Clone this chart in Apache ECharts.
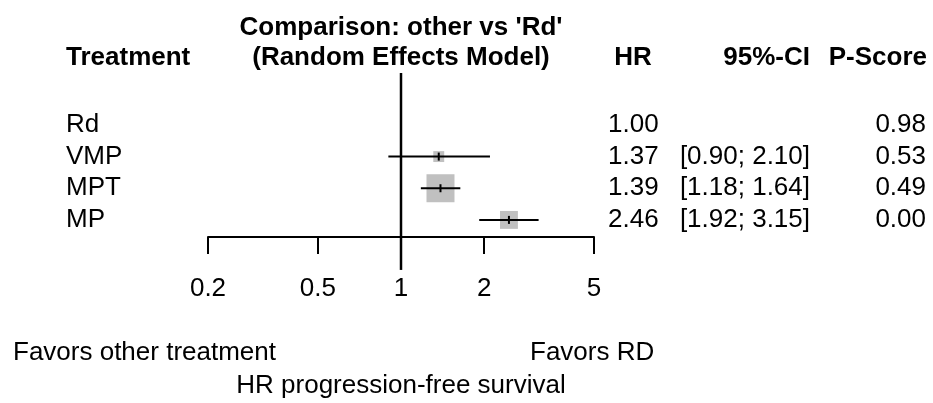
<!DOCTYPE html>
<html>
<head>
<meta charset="utf-8">
<script src="https://cdn.jsdelivr.net/npm/echarts@6/dist/echarts.min.js"></script>
<style>
  html, body { margin: 0; padding: 0; background: #fff; }
  #forest { width: 933px; height: 403px; }
</style>
</head>
<body>
<div id="forest"></div>
<script>
// data
var treatments = ['Rd', 'VMP', 'MPT', 'MP'];
var hr = [1.00, 1.37, 1.39, 2.46];
var ciLower = [null, 0.90, 1.18, 1.92];
var ciUpper = [null, 2.10, 1.64, 3.15];
var pScore = [0.98, 0.53, 0.49, 0.00];
var weights = [null, 0.39, 1.00, 0.64];   // relative box weight
var xTicks = [0.2, 0.5, 1, 2, 5];
var refValue = 1;

var FONT = "'Liberation Sans', Arial, sans-serif";
var log10 = function (v) { return Math.log(v) / Math.LN10; };

var chart = echarts.init(document.getElementById('forest'));

// rows with a CI -> forest marks
var forestData = [];
for (var i = 0; i < treatments.length; i++) {
    if (ciLower[i] == null) continue;
    forestData.push([log10(hr[i]), i, log10(ciLower[i]), log10(ciUpper[i]), weights[i]]);
}
var tableData = [];
for (var i = 0; i < treatments.length; i++) {
    tableData.push([0, i]);
}

var yMin = -1.64, yMax = 3.54;  // row units, row 0 on top

function txt(text, x, y, align, bold) {
    return {
        type: 'text', x: x, y: y, silent: true,
        style: {
            text: text, fill: '#000', align: align, verticalAlign: 'middle',
            font: (bold ? 'bold ' : '') + '26px ' + FONT
        }
    };
}

var option = {
    animation: false,
    grid: { left: 208, right: 339, top: 73, bottom: 166 },
    xAxis: {
        type: 'value',
        min: log10(xTicks[0]),
        max: log10(xTicks[xTicks.length - 1]),
        splitLine: { show: false },
        axisLine: { onZero: false, lineStyle: { color: '#000', width: 2 } },
        axisTick: {
            customValues: xTicks.map(log10),
            length: 17,
            lineStyle: { color: '#000', width: 2 }
        },
        axisLabel: {
            customValues: xTicks.map(log10),
            margin: 39,
            color: '#000',
            fontSize: 26,
            fontFamily: FONT,
            formatter: function (v) {
                return String(Math.round(Math.pow(10, v) * 10) / 10);
            }
        }
    },
    yAxis: {
        type: 'value', inverse: true, min: yMin, max: yMax, show: false
    },
    graphic: [
        txt("Comparison: other vs 'Rd'", 401, 28, 'center', true),
        txt('Treatment', 66, 58, 'left', true),
        txt('(Random Effects Model)', 401, 58, 'center', true),
        txt('HR', 633, 58, 'center', true),
        txt('95%-CI', 810, 58, 'right', true),
        txt('P-Score', 927, 58, 'right', true),
        txt('Favors other treatment', 13, 353, 'left', false),
        txt('Favors RD', 530, 353, 'left', false),
        txt('HR progression-free survival', 401, 386, 'center', false)
    ],
    series: [
        {
            // reference line at HR = 1
            type: 'line',
            data: [[log10(refValue), yMin], [log10(refValue), 4.58]],
            symbol: 'none',
            clip: false,
            silent: true,
            lineStyle: { color: '#000', width: 2.5 }
        },
        {
            type: 'custom',
            data: forestData,
            clip: false,
            renderItem: function (params, api) {
                var c = api.coord([api.value(0), api.value(1)]);
                var lo = api.coord([api.value(2), api.value(1)]);
                var hi = api.coord([api.value(3), api.value(1)]);
                var s = api.value(4) * 28;
                return {
                    type: 'group',
                    children: [
                        { type: 'rect', shape: { x: c[0] - s / 2, y: c[1] - s / 2, width: s, height: s },
                          style: { fill: '#c0c0c0' } },
                        { type: 'line', shape: { x1: lo[0], y1: lo[1], x2: hi[0], y2: hi[1] },
                          style: { stroke: '#000', lineWidth: 2 } },
                        { type: 'line', shape: { x1: c[0], y1: c[1] - 4, x2: c[0], y2: c[1] + 4 },
                          style: { stroke: '#000', lineWidth: 2 } }
                    ]
                };
            }
        },
        {
            // table columns
            type: 'custom',
            data: tableData,
            clip: false,
            silent: true,
            renderItem: function (params, api) {
                var i = api.value(1);
                var y = api.coord([0, i])[1];
                var ci = ciLower[i] == null ? '' :
                    '[' + ciLower[i].toFixed(2) + '; ' + ciUpper[i].toFixed(2) + ']';
                return {
                    type: 'group',
                    children: [
                        txt(treatments[i], 66, y, 'left', false),
                        txt(hr[i].toFixed(2), 608, y, 'left', false),
                        txt(ci, 810, y, 'right', false),
                        txt(pScore[i].toFixed(2), 926, y, 'right', false)
                    ]
                };
            }
        }
    ]
};

chart.setOption(option);
</script>
</body>
</html>
